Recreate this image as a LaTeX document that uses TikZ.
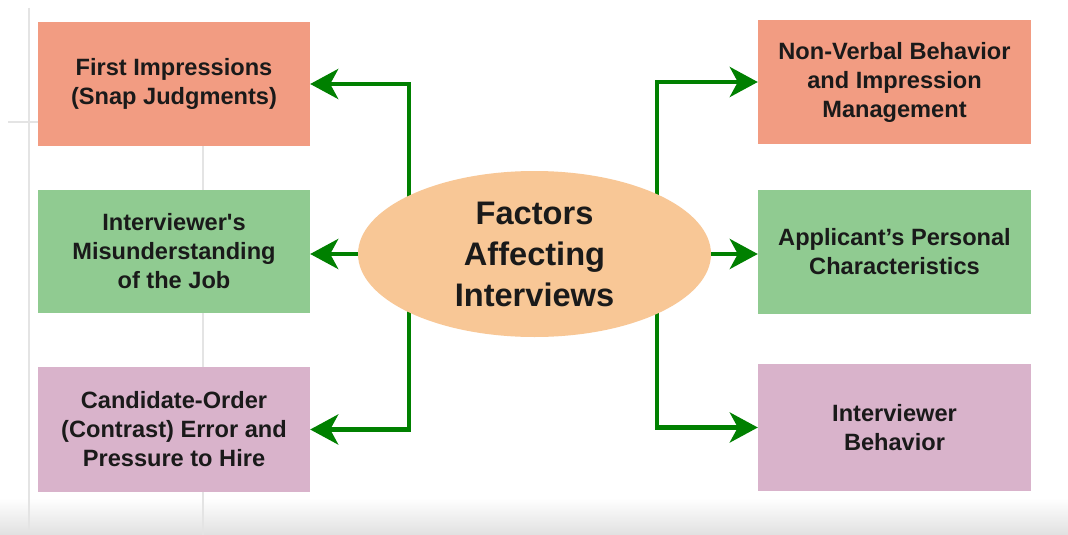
\documentclass[tikz,border=0pt]{standalone}
\usepackage{fontspec}
\setmainfont{Liberation Sans}
\usetikzlibrary{arrows.meta,shapes.geometric}
\definecolor{salmon}{HTML}{F29C82}
\definecolor{leaf}{HTML}{90CB91}
\definecolor{mauve}{HTML}{D9B3CB}
\definecolor{peach}{HTML}{F8C796}
\definecolor{arrowgreen}{HTML}{008000}
\definecolor{faint}{HTML}{E4E4E4}
\definecolor{ink}{HTML}{1A1A1A}
\tikzset{
  box/.style={rectangle, inner sep=0pt, minimum width=272pt, align=center,
    text=ink, font=\fontsize{23.6}{29}\selectfont\bfseries},
  hub/.style={ellipse, fill=peach, inner sep=0pt, minimum width=353pt,
    minimum height=166pt, align=center, text=ink,
    font=\fontsize{32.6}{41}\selectfont\bfseries},
  conn/.style={draw=arrowgreen, line width=4.5pt,
    -{Stealth[length=28pt,width=30pt,inset=8pt]}},
  guide/.style={draw=faint, line width=2pt}
}
\begin{document}
\begin{tikzpicture}[x=1pt,y=-1pt]
\useasboundingbox (0,0) rectangle (1068,535);
\fill[white] (0,0) rectangle (1068,535);
% bottom shading band
\shade[top color=white, bottom color=black!12] (0,498) rectangle (1068,535);
% faint background guide lines
\draw[guide] (29,8) -- (29,530);
\draw[guide] (8,122) -- (38,122);
\draw[guide] (203,146) -- (203,535);

% boxes
\node[box, fill=salmon, minimum height=124pt] (L1) at (174,84) {First Impressions\\(Snap Judgments)};
\node[box, fill=leaf, minimum height=123pt] (L2) at (174,251.5) {Interviewer\textquotesingle s\\Misunderstanding\\of the Job};
\node[box, fill=mauve, minimum height=125pt] (L3) at (174,429.5) {Candidate-Order\\(Contrast) Error and\\Pressure to Hire};
\node[box, fill=salmon, minimum height=124pt, minimum width=273pt] (R1) at (894.5,82) {Non-Verbal Behavior\\and Impression\\Management};
\node[box, fill=leaf, minimum height=124pt, minimum width=273pt] (R2) at (894.5,252) {Applicant’s Personal\\Characteristics};
\node[box, fill=mauve, minimum height=127pt, minimum width=273pt] (R3) at (894.5,427.5) {Interviewer\\Behavior};

% junctions under the hub
\coordinate (jl) at (409,254);
\coordinate (jr) at (657,254);
\draw[conn] (jl) |- (L1.east);
\draw[conn] (jl) |- (L3.east);
\draw[conn] (jr) |- (R1.west);
\draw[conn] (jr) |- (R3.west);

% hub
\node[hub] (E) at (534.5,254) {Factors\\Affecting\\Interviews};
\draw[conn] (E.west) -- (E.west -| L2.east);
\draw[conn] (E.east) -- (E.east -| R2.west);
\end{tikzpicture}
\end{document}
